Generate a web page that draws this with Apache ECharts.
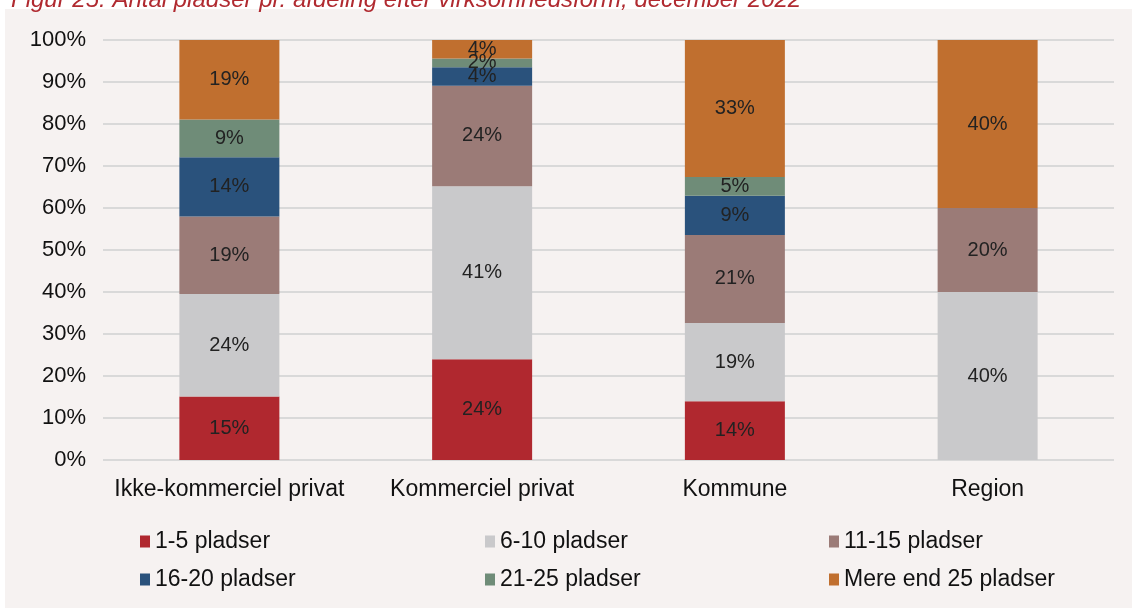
<!DOCTYPE html>
<html lang="da">
<head>
<meta charset="UTF-8">
<title>Antal pladser pr. afdeling</title>
<style>
  html, body { margin: 0; padding: 0; background: #ffffff; }
  #main { width: 1132px; height: 608px; }
</style>
</head>
<body>
<div id="main"></div>
<script src="https://cdn.jsdelivr.net/npm/echarts@6/dist/echarts.min.js"></script>
<script>
  // categories and series (share in %)
  var categories = ['Ikke-kommerciel privat', 'Kommerciel privat', 'Kommune', 'Region']
  var seriesNames = ['1-5 pladser', '6-10 pladser', '11-15 pladser', '16-20 pladser', '21-25 pladser', 'Mere end 25 pladser']
  var p1_5 = [15.1, 24.0, 14.0, 0]
  var p6_10 = [24.4, 41.2, 18.6, 40.0]
  var p11_15 = [18.5, 23.9, 21.0, 20.0]
  var p16_20 = [14.1, 4.4, 9.3, 0]
  var p21_25 = [9.0, 2.1, 4.5, 0]
  var p25plus = [18.9, 4.4, 32.6, 40.0]
  var yTicks = [0, 10, 20, 30, 40, 50, 60, 70, 80, 90, 100]

  var colors = ['#b0282f', '#c9c9cb', '#9b7b77', '#2a527c', '#6f8c78', '#c06f2f']
  var allData = [p1_5, p6_10, p11_15, p16_20, p21_25, p25plus]
  var font = 'Liberation Sans, Arial, sans-serif'

  var chart = echarts.init(document.getElementById('main'))

  var series = seriesNames.map(function (name, i) {
    return {
      name: name,
      type: 'bar',
      stack: 'total',
      barWidth: 100,
      data: allData[i],
      itemStyle: { color: colors[i] },
      label: {
        show: true,
        position: 'inside',
        color: '#222222',
        fontSize: 20,
        fontFamily: font,
        formatter: function (p) {
          return p.value > 0 ? Math.round(p.value) + '%' : ''
        }
      }
    }
  })

  function legendCol(left, names) {
    return {
      left: left,
      top: 525,
      orient: 'vertical',
      itemWidth: 10,
      itemHeight: 12,
      itemGap: 15,
      icon: 'rect',
      textStyle: { fontSize: 23, color: '#111111', fontFamily: font },
      data: names
    }
  }

  var option = {
    backgroundColor: 'transparent',
    animation: false,
    color: colors,
    graphic: [{
      type: 'rect',
      left: 5,
      top: 9,
      z: -10,
      shape: { width: 1127, height: 599 },
      style: { fill: '#f6f2f1' }
    }],
    title: {
      text: 'Figur 25: Antal pladser pr. afdeling efter virksomhedsform, december 2022',
      left: 6,
      top: -17,
      textStyle: {
        color: '#b02a30',
        fontStyle: 'italic',
        fontWeight: 'normal',
        fontSize: 24,
        fontFamily: font
      }
    },
    legend: [
      legendCol(135, [seriesNames[0], seriesNames[3]]),
      legendCol(480, [seriesNames[1], seriesNames[4]]),
      legendCol(824, [seriesNames[2], seriesNames[5]])
    ],
    grid: { left: 103, right: 18, top: 40, bottom: 148 },
    xAxis: {
      type: 'category',
      data: categories,
      axisLine: { show: false },
      axisTick: { show: false },
      axisLabel: {
        interval: 0,
        color: '#111111',
        fontSize: 23,
        margin: 18,
        fontFamily: font
      }
    },
    yAxis: {
      type: 'value',
      min: yTicks[0],
      max: yTicks[yTicks.length - 1],
      interval: 10,
      axisLine: { show: false },
      axisTick: { show: false },
      splitLine: { lineStyle: { color: '#d9d9d9', width: 2 } },
      axisLabel: {
        color: '#111111',
        fontSize: 22,
        margin: 17,
        fontFamily: font,
        formatter: '{value}%'
      }
    },
    series: series
  }

  chart.setOption(option)
  window.addEventListener('resize', function () { chart.resize() })
</script>
</body>
</html>
